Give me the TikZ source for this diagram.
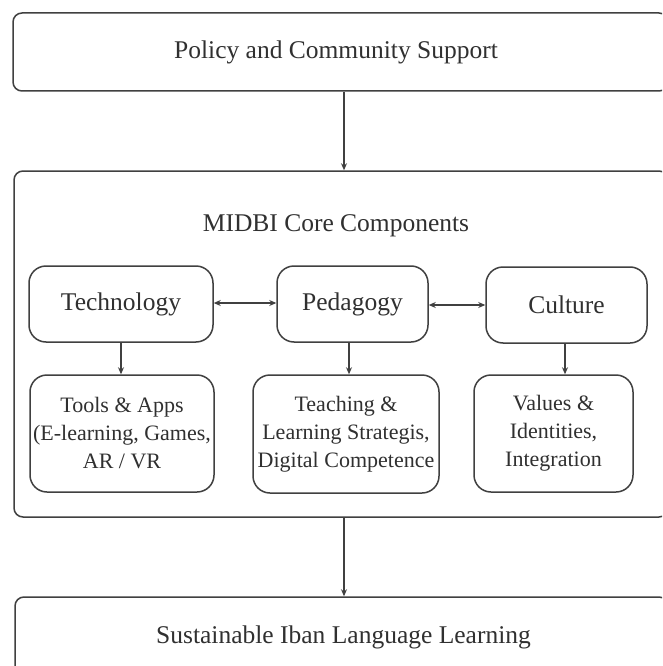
\documentclass[tikz,border=0pt]{standalone}
\usepackage{fontspec}
\setmainfont{Liberation Serif}
\usetikzlibrary{arrows.meta,calc}
\definecolor{linecol}{HTML}{404040}
\definecolor{txtcol}{HTML}{303030}
\tikzset{
  boxline/.style={draw=linecol, line width=1.5pt, fill=white},
  outerbox/.style={boxline, rounded corners=9pt, inner sep=0pt},
  innerbox/.style={boxline, rounded corners=17pt, inner sep=0pt},
  bigtext/.style={text=txtcol, font=\fontsize{25.5}{30}\selectfont},
  smalltext/.style={text=txtcol, font=\fontsize{22}{28}\selectfont, align=center},
  arr/.style={draw=linecol, line width=1.3pt, -{Stealth[length=7pt,width=6pt]}},
  darr/.style={draw=linecol, line width=1.3pt, {Stealth[length=7pt,width=6pt]}-{Stealth[length=7pt,width=6pt]}},
}
\begin{document}
\begin{tikzpicture}[x=1pt,y=-1pt]
\clip (0,0) rectangle (662,666);
\fill[white] (0,0) rectangle (662,666);
% outer boxes
\node[outerbox, minimum width=655pt, minimum height=78pt] (top) at (340.5,52) {};
\node[bigtext] (toptext) at (336,52) {Policy and Community Support};
\node[outerbox, minimum width=654pt, minimum height=346pt] (core) at (341,344) {};
\node[bigtext] (coretitle) at (336,226) {MIDBI Core Components};
\node[outerbox, minimum width=653pt, minimum height=160pt] (bottom) at (341.5,677) {};
\node[bigtext] (bottomtext) at (343.5,637) {Sustainable Iban Language Learning};
% inner top row
\node[innerbox, bigtext, minimum width=184pt, minimum height=76pt] (tech) at (121,304) {Technology};
\node[innerbox, bigtext, minimum width=151pt, minimum height=76pt] (ped) at (352.5,304) {Pedagogy};
\node[innerbox, bigtext, minimum width=161pt, minimum height=76pt] (cult) at (566.5,305) {Culture};
% inner bottom row
\node[innerbox, smalltext, minimum width=184pt, minimum height=117pt] (tools) at (122,433.5) {Tools \& Apps\\(E-learning, Games,\\AR / VR};
\node[innerbox, smalltext, minimum width=186pt, minimum height=118pt] (teach) at (346,434) {Teaching \&\\Learning Strategis,\\Digital Competence};
\node[innerbox, smalltext, minimum width=159pt, minimum height=117pt] (vals) at (553.5,433.5) {Values \&\\Identities,\\Integration};
% connectors
\draw[arr] (top.south -| 344,0) -- (core.north -| 344,0);
\draw[arr] (core.south -| 344,0) -- (bottom.north -| 344,0);
\draw[darr] (tech.east |- 0,303) -- (ped.west |- 0,303);
\draw[darr] (ped.east |- 0,305) -- (cult.west |- 0,305);
\draw[arr] (tech.south -| 121,0) -- (tools.north -| 121,0);
\draw[arr] (ped.south -| 349,0) -- (teach.north -| 349,0);
\draw[arr] (cult.south -| 565,0) -- (vals.north -| 565,0);
\end{tikzpicture}
\end{document}
